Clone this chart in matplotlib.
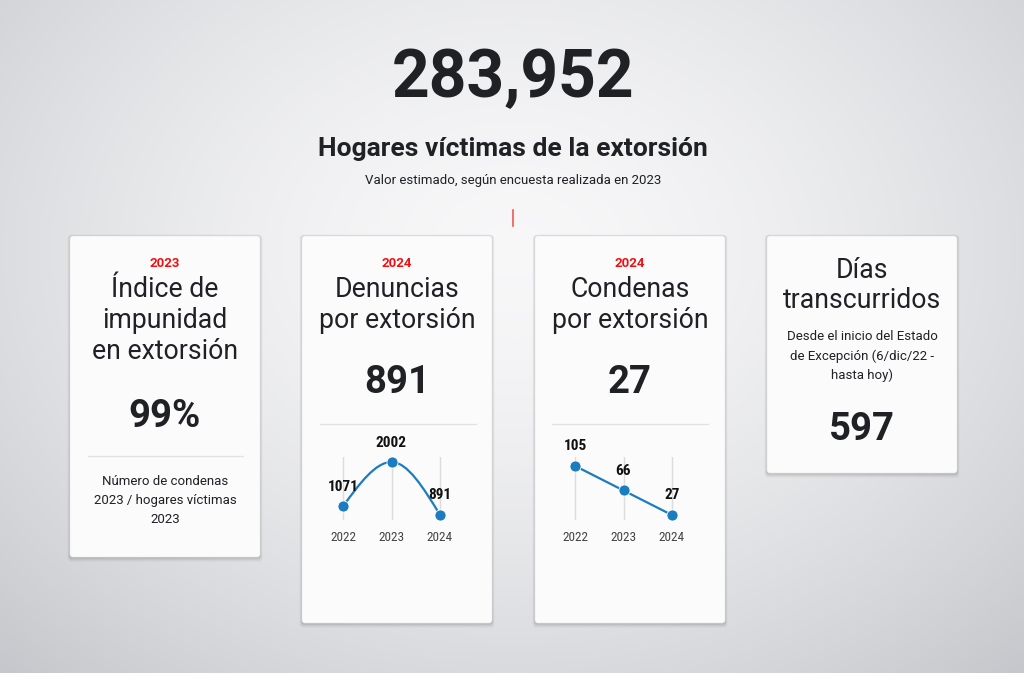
import numpy as np
import matplotlib
matplotlib.use("Agg")
import matplotlib.pyplot as plt
from matplotlib.patches import FancyBboxPatch
from matplotlib.path import Path
from matplotlib.patches import PathPatch
from matplotlib import font_manager as fm

# ---------------- data ----------------
headline_value = "283,952"
headline_title = "Hogares víctimas de la extorsión"
headline_sub = "Valor estimado, según encuesta realizada en 2023"

years = ["2022", "2023", "2024"]
denuncias = [1071, 2002, 891]
condenas = [105, 66, 27]

card_years = ["2023", "2024", "2024", ""]
card_titles = [["Índice de", "impunidad", "en extorsión"],
               ["Denuncias", "por extorsión"],
               ["Condenas", "por extorsión"],
               ["Días", "transcurridos"]]
card_values = ["99%", "891", "27", "597"]
card1_desc = ["Número de condenas", "2023 / hogares víctimas", "2023"]
card4_desc = ["Desde el inicio del Estado", "de Excepción (6/dic/22 -", "hasta hoy)"]

# ---------------- fonts ----------------
names = {f.name for f in fm.fontManager.ttflist}
MAIN = "Roboto" if "Roboto" in names else "DejaVu Sans"
COND = MAIN
for cand in ["Roboto Condensed", "Liberation Sans Narrow", "Open Sans Condensed"]:
    if cand in names:
        COND = cand
        break

W, H = 1024, 673
fig = plt.figure(figsize=(W / 100, H / 100), dpi=100)
bg = fig.add_axes([0, 0, 1, 1])
bg.set_xlim(0, W)
bg.set_ylim(H, 0)
bg.axis("off")

# radial background gradient
yy, xx = np.mgrid[0:H, 0:W]
r = np.sqrt(((xx - 512) / 620.0) ** 2 + ((yy - 250) / 480.0) ** 2)
r = np.clip(r, 0, 1.4)
c_center = np.array([0.970, 0.970, 0.975])
c_edge = np.array([0.760, 0.768, 0.786])
t = np.clip(r / 1.25, 0, 1) ** 1.6
img = c_center[None, None, :] * (1 - t[..., None]) + c_edge[None, None, :] * t[..., None]
bg.imshow(img, extent=(0, W, H, 0), aspect="auto", zorder=0)

TXT = "#1f2125"

# headline
bg.text(513, 97, headline_value, ha="center", va="baseline", fontsize=47.5,
        fontweight="bold", color=TXT, family=MAIN)
bg.text(513, 156, headline_title, ha="center", va="baseline", fontsize=19,
        fontweight="bold", color=TXT, family=MAIN)
bg.text(513, 184, headline_sub, ha="center", va="baseline", fontsize=9.5,
        color=TXT, family=MAIN)
bg.plot([513, 513], [210, 226], color="#f05a50", lw=1.2, zorder=2)

# cards
cards = [(70, 236, 260, 557), (302, 236, 492, 623),
         (535, 236, 725, 623), (767, 236, 957, 473)]
for (x0, y0, x1, y1) in cards:
    for k, a in [(5, 0.02), (4, 0.03), (3, 0.04), (2, 0.05), (1, 0.06)]:
        sh = FancyBboxPatch((x0 - k * 0.5, y0 - k * 0.3), x1 - x0 + k, y1 - y0 + k * 1.3,
                            boxstyle="round,pad=0,rounding_size=4",
                            fc="black", ec="none", alpha=a, zorder=1)
        bg.add_patch(sh)
    card = FancyBboxPatch((x0, y0), x1 - x0, y1 - y0,
                          boxstyle="round,pad=0,rounding_size=3",
                          fc="#fbfbfb", ec="#ececee", lw=0.5, zorder=2)
    bg.add_patch(card)

cx = [(c[0] + c[2]) / 2 for c in cards]

# year tags
for i in range(3):
    bg.text(cx[i], 267, card_years[i], ha="center", va="baseline", fontsize=9.5,
            fontweight="bold", color="#ee1111", family=MAIN, zorder=3)

# titles
title_base = [[297, 328, 359], [297, 328], [297, 328], [278, 308]]
for i in range(4):
    for line, yb in zip(card_titles[i], title_base[i]):
        bg.text(cx[i], yb, line, ha="center", va="baseline", fontsize=19.2,
                color=TXT, family=MAIN, zorder=3)

# big values
val_base = [427, 393, 393, 440]
for i in range(4):
    bg.text(cx[i], val_base[i], card_values[i], ha="center", va="baseline",
            fontsize=27.5, fontweight="bold", color=TXT, family=MAIN, zorder=3)

# separators
bg.plot([88, 243], [456, 456], color="#e3e3e3", lw=0.9, zorder=3)
bg.plot([320, 476], [424, 424], color="#e3e3e3", lw=0.9, zorder=3)
bg.plot([552, 708], [424, 424], color="#e3e3e3", lw=0.9, zorder=3)

# descriptions
for line, yb in zip(card1_desc, [485, 504, 523]):
    bg.text(cx[0], yb, line, ha="center", va="baseline", fontsize=9.5,
            color=TXT, family=MAIN, zorder=3)
for line, yb in zip(card4_desc, [340, 360, 379]):
    bg.text(cx[3], yb, line, ha="center", va="baseline", fontsize=9.5,
            color=TXT, family=MAIN, zorder=3)

BLUE = "#1b7cc0"


def px_axes(x0, y0, x1, y1):
    return fig.add_axes([x0 / W, 1 - y1 / H, (x1 - x0) / W, (y1 - y0) / H])


def monotone_path(xs, ys):
    xs = np.asarray(xs, float)
    ys = np.asarray(ys, float)
    n = len(xs)
    h = np.diff(xs)
    s = np.diff(ys) / h
    tng = np.zeros(n)
    for i in range(1, n - 1):
        s0, s1 = s[i - 1], s[i]
        p = (s0 * h[i] + s1 * h[i - 1]) / (h[i - 1] + h[i])
        tng[i] = (np.sign(s0) + np.sign(s1)) * min(abs(s0), abs(s1), 0.5 * abs(p))
    tng[0] = (3 * s[0] - tng[1]) / 2
    tng[-1] = (3 * s[-1] - tng[-2]) / 2
    verts = [(xs[0], ys[0])]
    codes = [Path.MOVETO]
    for i in range(n - 1):
        dx = (xs[i + 1] - xs[i]) / 3
        verts += [(xs[i] + dx, ys[i] + dx * tng[i]),
                  (xs[i + 1] - dx, ys[i + 1] - dx * tng[i + 1]),
                  (xs[i + 1], ys[i + 1])]
        codes += [Path.CURVE4] * 3
    return Path(verts, codes)


def mini_chart(ax, values, smooth, ylim):
    x = np.arange(len(values))
    ax.set_xlim(-0.5, len(values) - 0.5)
    ax.set_ylim(*ylim)
    ax.patch.set_alpha(0)
    for sp in ax.spines.values():
        sp.set_visible(False)
    ax.set_yticks([])
    ax.set_xticks(x)
    ax.set_xticklabels(years, family=COND, fontsize=9.5, color="#444444")
    ax.tick_params(axis="x", length=0, pad=8)
    ax.grid(axis="x", color="#dcdcdc", lw=1)
    ax.set_axisbelow(True)
    if smooth:
        ax.add_patch(PathPatch(monotone_path(x, values), fc="none", ec=BLUE,
                               lw=1.6, clip_on=False, zorder=3))
    else:
        ax.plot(x, values, color=BLUE, lw=1.6, clip_on=False, zorder=3)
    ax.plot(x, values, "o", color=BLUE, ms=8, mec="white", mew=0.6,
            clip_on=False, zorder=4)
    for xi, v in zip(x, values):
        ax.annotate(str(v), (xi, v), xytext=(0, 9), textcoords="offset points",
                    ha="center", va="bottom", fontsize=11, fontweight="bold",
                    family=COND, color="#111111", annotation_clip=False)


ax2 = px_axes(319, 457, 464, 520)
mini_chart(ax2, denuncias, True, (776, 2108))
ax3 = px_axes(551, 457, 696, 520)
mini_chart(ax3, condenas, False, (19.0, 119.3))

fig.savefig("out.png", dpi=100)
